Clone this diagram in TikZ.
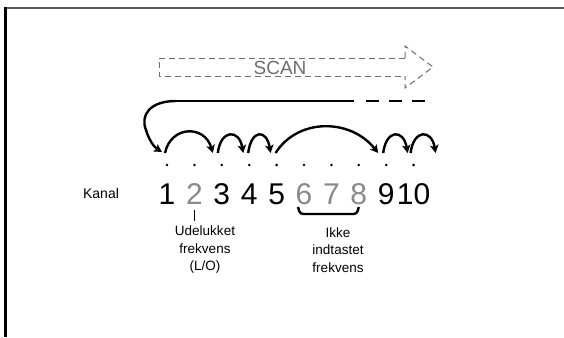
\documentclass[tikz,border=0pt]{standalone}
\usepackage{fontspec}
\setmainfont{Liberation Sans}
\usetikzlibrary{arrows.meta,calc}
\definecolor{dimgrey}{HTML}{8A8A8A}
\definecolor{scangrey}{HTML}{6E6E6E}
\begin{document}
\begin{tikzpicture}[x=1pt,y=-1pt,
  hop/.style={line width=2.4pt,-{Stealth[length=8pt,width=8.5pt,inset=2pt]}},
  num/.style={font=\fontsize{30}{34}\selectfont,inner sep=0pt,anchor=center},
  lbl/.style={font=\fontsize{13.5}{17.5}\selectfont,align=center,inner sep=0pt},
  scanline/.style={scangrey,line width=1pt,dash pattern=on 6pt off 4pt}]
\useasboundingbox (0,0) rectangle (564,337);
\fill[white] (0,0) rectangle (564,337);
% frame
\draw[gray!70!black,line width=1.2pt] (4,8) -- (564,8);
\draw[black,line width=3pt] (5.5,7.5) -- (5.5,337);
% channel coordinates
\foreach \i in {1,...,10} \coordinate (a\i) at ({167+27.4*(\i-1)},153);
% dashed SCAN arrow
\coordinate (sa) at (159,58);
\coordinate (sb) at (405,58);
\coordinate (sc) at (405,46);
\coordinate (sd) at (433,67);
\coordinate (se) at (405,88);
\coordinate (sf) at (405,76);
\coordinate (sg) at (159,76);
\draw[scanline] (sb) -- (sa) -- (sg) -- (sf);
\draw[scanline] (sb) -- (sc) -- (sd) -- (se) -- (sf);
\node[font=\fontsize{19}{22}\selectfont,text=scangrey,inner sep=0pt] (scan) at (280,67.5) {SCAN};
% return line
\coordinate (r0) at (176,101);
\coordinate (r1) at (354,101);
\coordinate (r2) at (366,101);
\coordinate (r3) at (428,101);
\draw[line width=2.8pt] (r1) -- (r0);
\draw[line width=2.8pt,dash pattern=on 13pt off 10pt] (r2) -- (r3);
\draw[hop] (r0) .. controls (150,101) and (140,115) .. (146,130)
  .. controls (149,140) and (154,147) .. ($(a1)+(-5,-1)$);
% hops
\draw[hop] ($(a1)+(-2,0)$) .. controls +(6,-28) and +(-8,-28) .. ($(a3)+(-9,0)$);
\draw[hop] ($(a3)+(-4,0)$) .. controls +(3,-24) and +(-4,-24) .. ($(a4)+(-6,0)$);
\draw[hop] ($(a4)+(-1,0)$) .. controls +(3,-24) and +(-4,-24) .. ($(a5)+(-6,0)$);
\draw[hop] ($(a5)+(-1,0)$) .. controls +(22,-35) and +(-28,-35) .. ($(a9)+(-8,0)$);
\draw[hop] ($(a9)+(-3,0)$) .. controls +(3,-24) and +(-4,-24) .. ($(a10)+(-6,0)$);
\draw[hop] ($(a10)+(-3,0)$) .. controls +(3,-24) and +(-4,-24) .. ($(a10)+(22,0)$);
% dots and numbers
\foreach \i/\c in {1/black,2/dimgrey,3/black,4/black,5/black,6/dimgrey,7/dimgrey,8/dimgrey,9/black,10/black}{
  \fill ($(a\i)+(0,12)$) circle (1.4pt);
  \node[num,text=\c] (n\i) at ($(a\i)+(0,41)$) {\i};
}
\node[font=\fontsize{14}{16}\selectfont,inner sep=0pt] (kanal) at (101,193) {Kanal};
% annotations
\coordinate (t0) at ($(a2)+(0,57)$);
\coordinate (t1) at ($(a2)+(0,68)$);
\draw[line width=1.4pt] (t0) -- (t1);
\draw[line width=2.4pt,rounded corners=3pt] ($(a6)+(-6,54)$) -- ($(a6)+(-4,61)$) -- ($(a8)+(-2,61)$) -- ($(a8)+(0,54)$);
\node[lbl] (udel) at (205,250) {Udelukket\\frekvens\\(L/O)};
\node[lbl] (ikke) at (338,250) {Ikke\\indtastet\\frekvens};
\end{tikzpicture}
\end{document}
